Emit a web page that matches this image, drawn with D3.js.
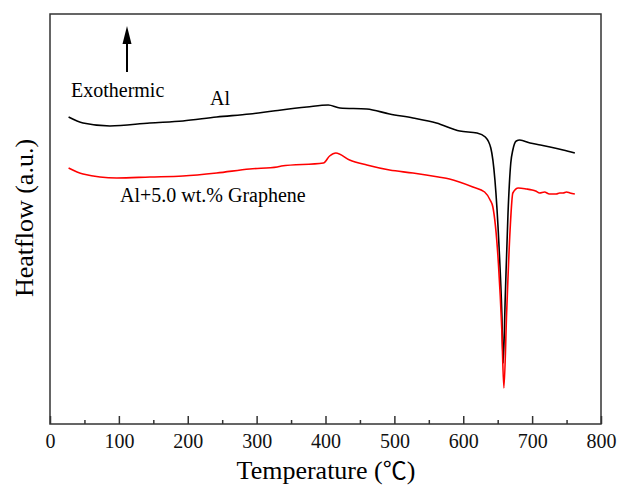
<!DOCTYPE html>
<html>
<head>
<meta charset="utf-8">
<script src="https://cdn.jsdelivr.net/npm/d3@7"></script>
<style>
  body { margin: 0; background: #fff; }
  svg text { font-family: "Liberation Serif", "Times New Roman", serif; }
</style>
</head>
<body>
<svg id="dsc" width="618" height="486"></svg>
<script>
// heat flow in arbitrary units (a.u.)
const alTemp = [27, 48, 87, 145, 193, 242, 290, 324, 373, 404, 421, 460, 493, 527, 561, 595, 620, 632, 640, 646, 652, 656, 658, 661, 665, 669, 672, 677, 682, 697, 712, 726, 745, 762];
const alFlow = [307, 301, 298, 301, 303, 307, 310, 313, 317, 319, 316, 315, 310, 306, 301, 293, 291, 287, 276, 244, 177, 111, 61, 127, 211, 261, 274, 283, 284, 281, 279, 277, 274, 271];

const grTemp = [27, 48, 97, 145, 193, 242, 290, 330, 336, 397, 406, 415, 435, 460, 493, 527, 564, 580, 614, 631, 639, 643, 651, 656, 659, 663, 668, 672, 680, 692, 700, 705, 711, 718, 725, 735, 740, 745, 750, 755, 762];
const grFlow = [256, 250, 246, 247, 248, 251, 255, 257, 258, 261, 268, 271, 264, 259, 254, 251, 247, 245, 237, 232, 224, 217, 161, 94, 36, 111, 194, 231, 236, 235, 234, 233, 231, 232, 230, 230, 231, 231, 232, 231, 230];

const xTicks = [0, 100, 200, 300, 400, 500, 600, 700, 800];

const margin = { left: 50, right: 17, top: 14, bottom: 62 };
const width = 618, height = 486;

const svg = d3.select('svg#dsc');

const x = d3.scaleLinear()
  .domain([0, 800])
  .range([margin.left, width - margin.right]);
const y = d3.scaleLinear()
  .domain([0, 410])
  .range([height - margin.bottom, margin.top]);

// frame
svg.append('rect')
  .attr('x', x(0))
  .attr('y', y(410))
  .attr('width', x(800) - x(0))
  .attr('height', y(0) - y(410))
  .attr('fill', 'none')
  .attr('stroke', '#333')
  .attr('stroke-width', 1.5);

// bottom axis, ticks inside
const xAxis = svg.append('g')
  .attr('transform', `translate(0, ${y(0)})`)
  .call(d3.axisBottom(x).tickValues(xTicks).tickSize(-8).tickSizeOuter(0).tickPadding(10))
  .call((g) => g.select('.domain').remove());
xAxis.selectAll('line').attr('stroke', '#333').attr('stroke-width', 1.5);
xAxis.selectAll('text')
  .attr('font-size', '20px')
  .attr('fill', '#111')
  .style('font-family', '"Liberation Serif", serif');

svg.append('g')
  .attr('transform', `translate(0, ${y(0)})`)
  .call(d3.axisBottom(x).tickValues(d3.range(50, 800, 100)).tickSize(-4).tickFormat(''))
  .call((g) => g.select('.domain').remove())
  .selectAll('line').attr('stroke', '#333').attr('stroke-width', 1.5);

// curves
const line = d3.line()
  .x((d) => x(d[0]))
  .y((d) => y(d[1]))
  .curve(d3.curveMonotoneX);

svg.append('path')
  .datum(d3.zip(alTemp, alFlow))
  .attr('fill', 'none')
  .attr('stroke', '#000')
  .attr('stroke-width', 1.6)
  .attr('d', line);

svg.append('path')
  .datum(d3.zip(grTemp, grFlow))
  .attr('fill', 'none')
  .attr('stroke', '#ff0000')
  .attr('stroke-width', 1.6)
  .attr('d', line);

// exothermic arrow
svg.append('line')
  .attr('x1', 127).attr('y1', 72)
  .attr('x2', 127).attr('y2', 40)
  .attr('stroke', '#000')
  .attr('stroke-width', 2);
svg.append('path')
  .attr('d', 'M127,26 L122.5,44 L131.5,44 Z')
  .attr('fill', '#000');

// labels
svg.append('text')
  .attr('x', 71).attr('y', 97)
  .attr('font-size', '20px')
  .text('Exothermic');
svg.append('text')
  .attr('x', 210).attr('y', 105)
  .attr('font-size', '20px')
  .text('Al');
svg.append('text')
  .attr('x', 120).attr('y', 202)
  .attr('font-size', '20px')
  .text('Al+5.0 wt.% Graphene');

const xTitle = svg.append('text')
  .attr('x', 326).attr('y', 479)
  .attr('text-anchor', 'middle')
  .attr('font-size', '26px');
xTitle.append('tspan').text('Temperature (');
xTitle.append('tspan').style('font-family', '"Noto Sans CJK SC", serif').attr('font-size', '24px').text('℃');
xTitle.append('tspan').text(')');

svg.append('text')
  .attr('transform', 'translate(33, 218) rotate(-90)')
  .attr('text-anchor', 'middle')
  .attr('font-size', '26px')
  .text('Heatflow (a.u.)');
</script>
</body>
</html>
